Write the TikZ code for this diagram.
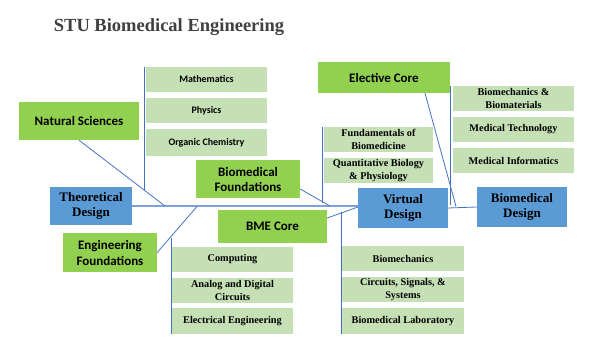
\documentclass[tikz,border=0pt]{standalone}
\usepackage{fontspec}
\setmainfont{Liberation Serif}
\newfontfamily\calfont{Carlito}
\definecolor{gbig}{HTML}{92D050}
\definecolor{gsmall}{HTML}{C5E0B4}
\definecolor{bbox}{HTML}{5B9BD5}
\definecolor{lnk}{HTML}{4472C4}
\definecolor{spinec}{HTML}{7FA0DA}
\definecolor{titlec}{HTML}{404040}
\begin{document}
\begin{tikzpicture}[x=1pt,y=-1pt,
  gbox/.style={fill=gbig,inner sep=0pt,align=center,text=black,
    font=\calfont\bfseries\fontsize{13}{15}\selectfont},
  bluebox/.style={fill=bbox,inner sep=0pt,align=center,text=black,
    minimum width=90pt,minimum height=40pt,
    font=\bfseries\fontsize{13}{15}\selectfont},
  sansitem/.style={fill=gsmall,inner sep=0pt,align=center,text=black,
    minimum width=121pt,minimum height=25pt,
    font=\calfont\bfseries\fontsize{10}{12}\selectfont},
  serifitem/.style={fill=gsmall,inner sep=0pt,align=center,text=black,
    minimum height=25pt,
    font=\bfseries\fontsize{10.3}{13}\selectfont},
  conn/.style={draw=lnk,line width=0.8pt},
  spine/.style={draw=spinec,line width=1.4pt}]
\useasboundingbox (0,0) rectangle (590,361);

\node[anchor=base,text=titlec,font=\bfseries\fontsize{18.5}{20}\selectfont] (title) at (169,32) {STU Biomedical Engineering};

% theoretical side
\node[gbox,minimum width=120pt,minimum height=38pt] (NS) at (79,121) {Natural Sciences};
\node[sansitem] (Math) at (206.5,79.5) {Mathematics};
\node[sansitem] (Phys) at (206.5,110.5) {Physics};
\node[sansitem,minimum height=27pt] (OC) at (206.5,142.5) {Organic Chemistry};
\node[bluebox,minimum width=82pt,minimum height=38pt] (TD) at (91,206) {Theoretical\\Design};
\node[gbox,minimum width=104pt,minimum height=38pt] (BF) at (248,179) {Biomedical\\Foundations};
\node[gbox,minimum width=94pt,minimum height=39pt,font=\calfont\bfseries\fontsize{13}{16}\selectfont] (EF) at (110,252.5) {Engineering\\Foundations};
\node[gbox,minimum width=109pt,minimum height=33pt] (BME) at (272.5,226.5) {BME Core};
\node[serifitem,minimum width=121pt] (Comp) at (232.5,259.5) {Computing};
\node[serifitem,minimum width=121pt] (ADC) at (232.5,290.5) {Analog and Digital\\Circuits};
\node[serifitem,minimum width=121pt,minimum height=26pt] (EE) at (232.5,321) {Electrical Engineering};

% virtual side
\node[bluebox] (VD) at (403,208) {Virtual\\Design};
\node[bluebox] (BD) at (522,207) {Biomedical\\Design};
\node[gbox,minimum width=132pt,minimum height=31pt] (EC) at (384,77.5) {Elective Core};
\node[serifitem,minimum width=109pt] (FoB) at (378.5,139.5) {Fundamentals of\\Biomedicine};
\node[serifitem,minimum width=109pt] (QBP) at (378.5,170.5) {Quantitative Biology\\\& Physiology};
\node[serifitem,minimum width=121pt] (BMB) at (513.5,98.5) {Biomechanics \&\\Biomaterials};
\node[serifitem,minimum width=121pt] (MT) at (513.5,129.5) {Medical Technology};
\node[serifitem,minimum width=121pt] (MI) at (513.5,160.5) {Medical Informatics};
\node[serifitem,minimum width=122pt] (BMc) at (403,258.5) {Biomechanics};
\node[serifitem,minimum width=122pt] (CSS) at (403,289.5) {Circuits, Signals, \&\\Systems};
\node[serifitem,minimum width=122pt,minimum height=26pt] (BL) at (403,321) {Biomedical Laboratory};

% junction coordinates on the spine
\coordinate (s1) at (165,206);
\coordinate (s2) at (197,206.5);
\coordinate (s3) at (330,206);
\coordinate (s4) at (358,207);
\coordinate (s5) at (456,206.5);

% spine
\draw[spine] (TD.east) -- (TD.east -| VD.west);
\draw[conn] (VD.east) -- (BD.west);

% branches
\draw[conn] (NS.south) -- (s1);
\draw[conn] (EF.east) -- (s2);
\draw[conn] ([yshift=-10pt]BF.east) -- (s3);
\draw[conn] ([yshift=8.5pt]BME.east) -- (s4);
\draw[conn] ([xshift=41pt]EC.south) -- (s5);

% item rails
\draw[conn] ([xshift=-1pt]Math.north west) -- ++(0,123);
\draw[conn] ([xshift=-1pt]FoB.north west) -- ++(0,76);
\draw[conn] ([xshift=-2pt]BMB.north west) -- ++(0,119);
\draw[conn] (EE.south west) -- ++(0,-96);
\draw[conn] (BL.south west) -- ++(0,-122);
\end{tikzpicture}
\end{document}
